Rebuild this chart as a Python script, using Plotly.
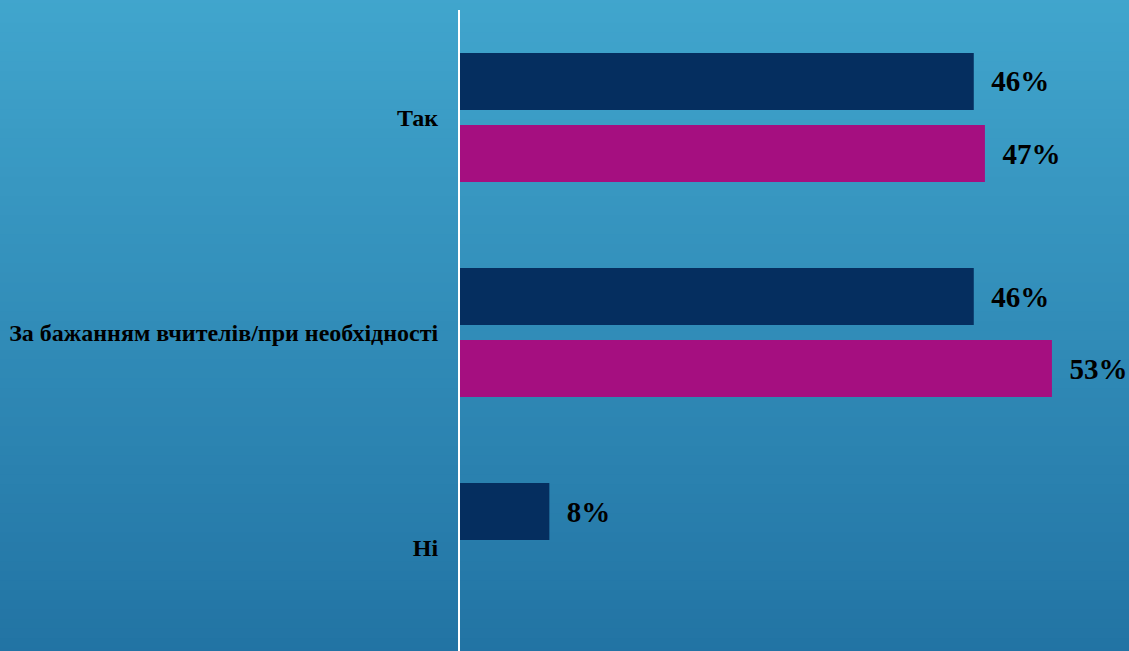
import plotly.graph_objects as go

categories = ["Так", "За бажанням вчителів/при необхідності", "Ні"]
series_a = [46, 46, 8]
series_b = [47, 53, None]

NAVY = "#052E5F"
MAGENTA = "#A50F80"
FONT = "Liberation Serif, Times New Roman, serif"

def lab(v):
    return ["\u00a0\u00a0%d%%" % x if x is not None else "" for x in v]

fig = go.Figure()
fig.add_trace(go.Bar(y=categories, x=series_a, orientation="h", marker=dict(color=NAVY, line=dict(width=0)),
                     text=lab(series_a), textposition="outside", cliponaxis=False,
                     textfont=dict(family=FONT, size=29, color="black", weight="bold"), hoverinfo="skip"))
fig.add_trace(go.Bar(y=categories, x=series_b, orientation="h", marker=dict(color=MAGENTA, line=dict(width=0)),
                     text=lab(series_b), textposition="outside", cliponaxis=False,
                     textfont=dict(family=FONT, size=29, color="black", weight="bold"), hoverinfo="skip"))

# vertical gradient background
top = (67, 169, 208)
bot = (31, 111, 160)
n = 80
shapes = []
for i in range(n):
    t = i / (n - 1)
    c = tuple(round(top[k] + (bot[k] - top[k]) * t) for k in range(3))
    shapes.append(dict(type="rect", xref="paper", yref="paper", x0=-1, x1=2,
                       y1=1.1 - i * (1.2 / n), y0=1.1 - (i + 1) * (1.2 / n) - 0.002,
                       fillcolor="rgb(%d,%d,%d)" % c, line=dict(width=0), layer="below"))

fig.update_layout(
    width=1129, height=651,
    margin=dict(l=460, r=0, t=10, b=0),
    paper_bgcolor="rgb(50,140,185)", plot_bgcolor="rgba(0,0,0,0)",
    barmode="group", bargap=0.33, bargroupgap=0.208,
    showlegend=False, shapes=shapes,
    xaxis=dict(range=[0, 59.9], showgrid=False, zeroline=False, showticklabels=False, showline=False),
    yaxis=dict(type="category", categoryarray=categories, range=[2.481, -0.5],
               showgrid=False, zeroline=False, showline=True, linecolor="white", linewidth=2,
               ticks="", ticklabelstandoff=15,
               tickfont=dict(family=FONT, size=24, color="black", weight="bold")),
)
fig.write_html("out.html", config={"displayModeBar": False},
               post_script="document.body.style.margin='0';document.body.style.overflow='hidden';")
